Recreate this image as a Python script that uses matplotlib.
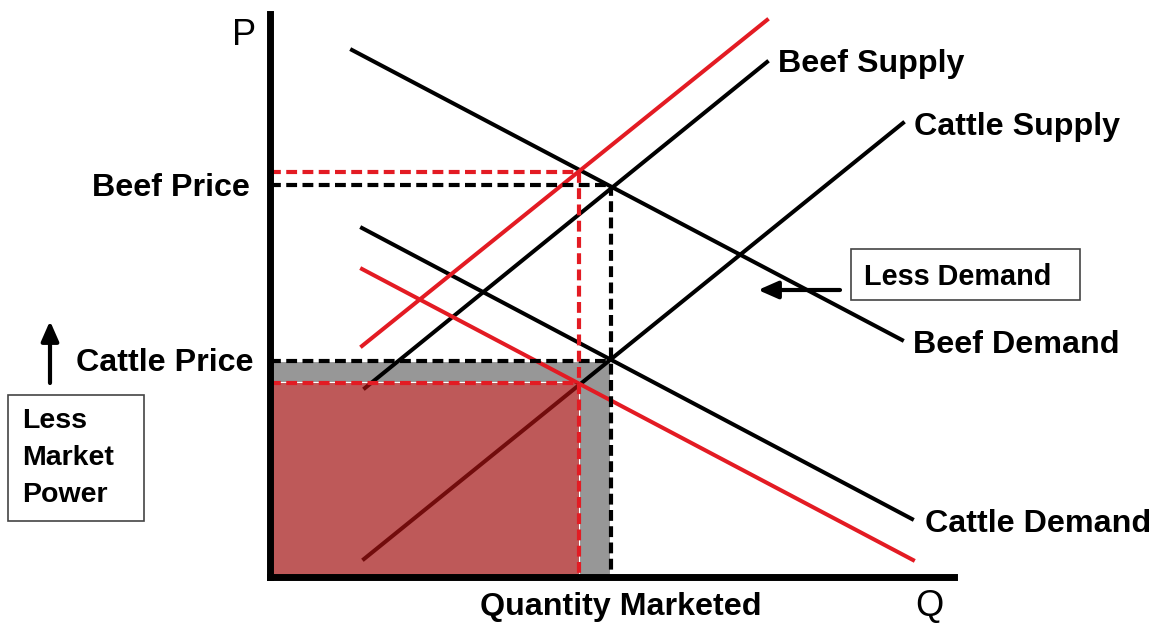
import matplotlib
matplotlib.use('Agg')
import matplotlib.pyplot as plt
from matplotlib.patches import Rectangle

# curves: (Q, P) at both ends
beef_demand_q = [8.2, 63.2]
beef_demand_p = [52.7, 23.7]
beef_supply_q = [9.5, 49.7]
beef_supply_p = [18.9, 51.5]
beef_supply_new_q = [9.2, 49.7]
beef_supply_new_p = [23.1, 55.7]
cattle_supply_q = [9.4, 63.3]
cattle_supply_p = [1.8, 45.4]
cattle_demand_q = [9.2, 64.2]
cattle_demand_p = [34.9, 5.8]
cattle_demand_new_q = [9.2, 64.3]
cattle_demand_new_p = [30.8, 1.7]

# equilibria, before and after
q_eq, q_new = 34.1, 30.9
beef_price, beef_price_new = 39.2, 40.5
cattle_price, cattle_price_new = 21.6, 19.4

RED = '#e31b23'
BLACK = '#000000'

plt.rcParams['font.family'] = ['Liberation Sans', 'DejaVu Sans']

fig = plt.figure(figsize=(11.61, 6.26), dpi=100)
ax = fig.add_axes([270 / 1161, 49 / 626, 684 / 1161, 563 / 626])
ax.set_xlim(0, 68.4)
ax.set_ylim(0, 56.3)
ax.set_xticks([])
ax.set_yticks([])
for side in ('top', 'right'):
    ax.spines[side].set_visible(False)
for side in ('left', 'bottom'):
    ax.spines[side].set_linewidth(5)
    ax.spines[side].set_zorder(6)

# revenue areas
ax.add_patch(Rectangle((0, 0), q_eq, cattle_price, facecolor='#979797',
                       edgecolor='white', linewidth=1.5, zorder=1))
ax.add_patch(Rectangle((0, 0), q_new, cattle_price_new, facecolor='white',
                       edgecolor='white', linewidth=1.5, zorder=1.5))
ax.add_patch(Rectangle((0, 0), q_new, cattle_price_new, facecolor='#a31212',
                       alpha=0.7, edgecolor='none', zorder=3))

lw = 2.9
ax.plot(beef_demand_q, beef_demand_p, color=BLACK, lw=lw, zorder=2)
ax.plot(beef_supply_q, beef_supply_p, color=BLACK, lw=lw, zorder=2)
ax.plot(cattle_supply_q, cattle_supply_p, color=BLACK, lw=lw, zorder=2)
ax.plot(cattle_demand_q, cattle_demand_p, color=BLACK, lw=lw, zorder=2)
ax.plot(beef_supply_new_q, beef_supply_new_p, color=RED, lw=lw, zorder=2)
ax.plot(cattle_demand_new_q, cattle_demand_new_p, color=RED, lw=lw, zorder=2)

dash = dict(lw=3.0, dashes=(2.6, 1.3), zorder=4)
ax.plot([0, q_eq], [beef_price, beef_price], color=BLACK, **dash)
ax.plot([0, q_eq], [cattle_price, cattle_price], color=BLACK, **dash)
ax.plot([q_eq, q_eq], [beef_price, 0], color=BLACK, **dash)
ax.plot([0, q_new], [beef_price_new, beef_price_new], color=RED, **dash)
ax.plot([0, q_new], [cattle_price_new, cattle_price_new], color=RED, **dash)
ax.plot([q_new, q_new], [beef_price_new, 0], color=RED, **dash)

lab = dict(fontsize=23.2, fontweight='bold', va='baseline', clip_on=False)
ax.text(50.8, 50.5, 'Beef Supply', **lab)
ax.text(64.4, 44.2, 'Cattle Supply', **lab)
ax.text(64.3, 22.4, 'Beef Demand', **lab)
ax.text(65.5, 4.5, 'Cattle Demand', **lab)
ax.text(21.0, -3.8, 'Quantity Marketed', **lab)
ax.text(-2.0, 38.1, 'Beef Price', ha='right', **lab)
ax.text(-1.7, 20.6, 'Cattle Price', ha='right', **lab)
ax.text(-3.8, 53.2, 'P', fontsize=26, va='baseline', clip_on=False)
ax.text(64.5, -3.9, 'Q', fontsize=26, va='baseline', clip_on=False)

# "Less Demand" note
ax.add_patch(Rectangle((58.1, 27.7), 22.9, 5.1, facecolor='white',
                       edgecolor='#444444', linewidth=1.2, clip_on=False))
ax.text(59.4, 29.2, 'Less Demand', fontsize=20.8, fontweight='bold',
        va='baseline', clip_on=False)
ax.annotate('', xy=(48.8, 28.7), xytext=(57.0, 28.7),
            arrowprops=dict(arrowstyle='-|>,head_length=0.5,head_width=0.22',
                            color=BLACK, lw=3, mutation_scale=24,
                            shrinkA=0, shrinkB=0), annotation_clip=False)

# "Less Market Power" note
ax.add_patch(Rectangle((-26.2, 5.6), 13.6, 12.6, facecolor='white',
                       edgecolor='#444444', linewidth=1.2, clip_on=False))
ax.text(-24.8, 11.9, 'Less\nMarket\nPower', fontsize=20.5, fontweight='bold',
        va='center', ha='left', linespacing=1.55, clip_on=False)
ax.annotate('', xy=(-22.0, 25.6), xytext=(-22.0, 19.4),
            arrowprops=dict(arrowstyle='-|>,head_length=0.5,head_width=0.22',
                            color=BLACK, lw=3, mutation_scale=24,
                            shrinkA=0, shrinkB=0), annotation_clip=False)

fig.savefig('out.png', dpi=100)
